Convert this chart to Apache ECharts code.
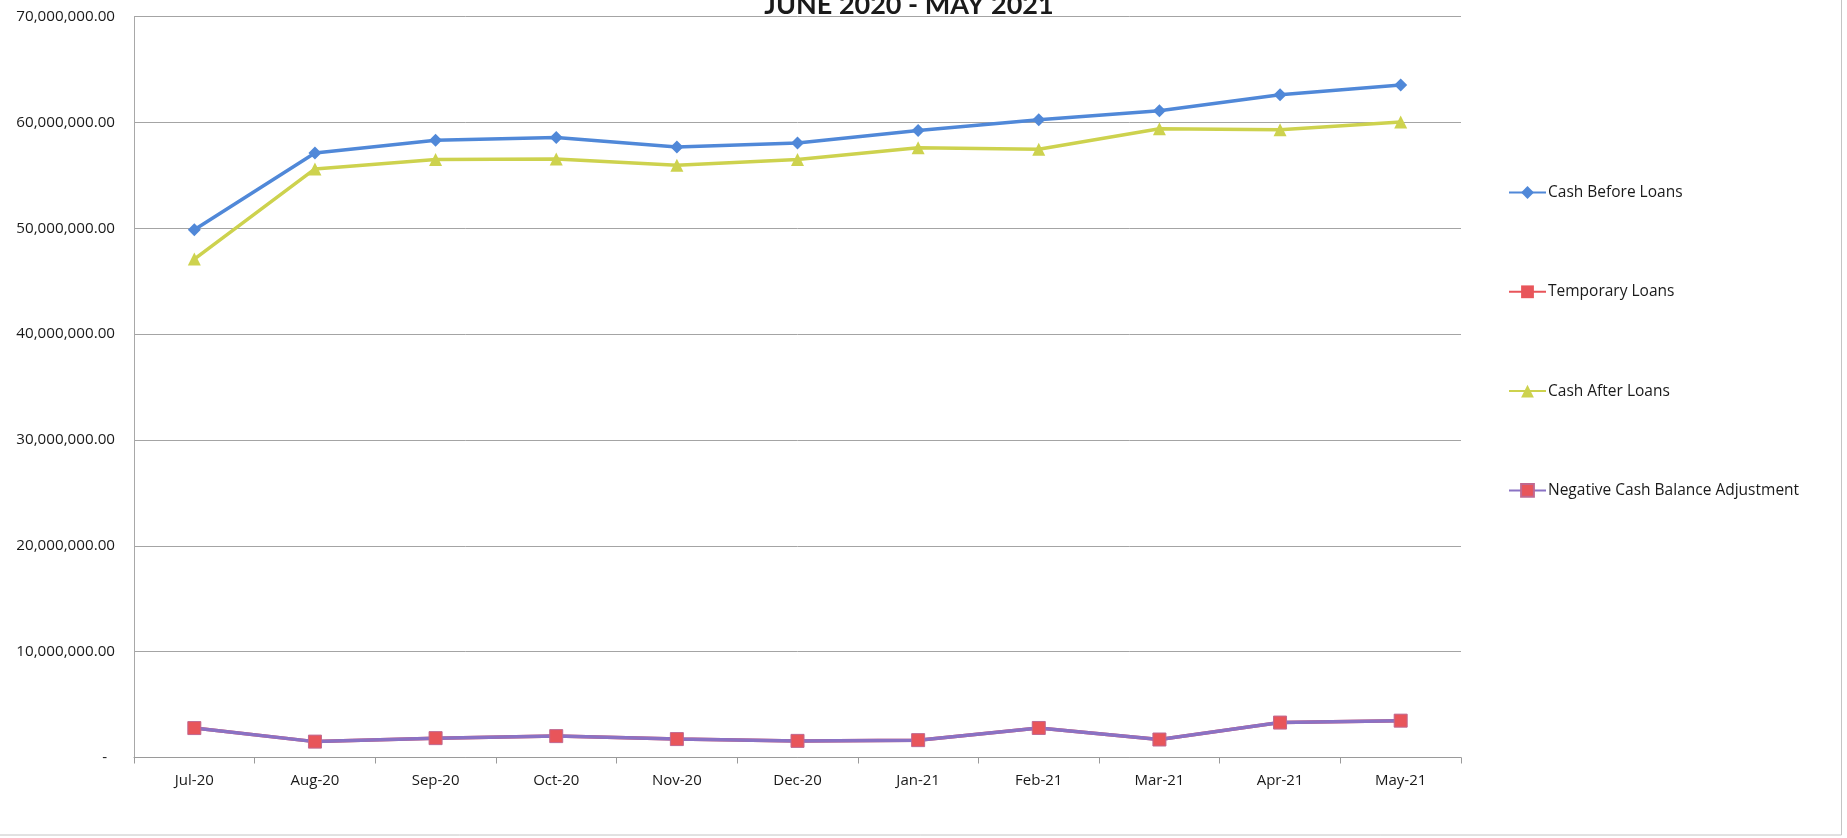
<!DOCTYPE html>
<html>
<head>
<meta charset="utf-8">
<title>Cash Flow June 2020 - May 2021</title>
<script src="https://cdn.jsdelivr.net/npm/echarts@6/dist/echarts.min.js"></script>
<style>
  html, body { margin: 0; padding: 0; background: #ffffff; }
  #chart { width: 1847px; height: 838px; }
</style>
</head>
<body>
<div id="chart"></div>
<script>
// Monthly cash position, July 2020 through May 2021
const months = ['Jul-20', 'Aug-20', 'Sep-20', 'Oct-20', 'Nov-20', 'Dec-20',
                'Jan-21', 'Feb-21', 'Mar-21', 'Apr-21', 'May-21'];

const cashBeforeLoans = [49860000, 57100000, 58320000, 58580000, 57680000, 58060000,
                         59240000, 60250000, 61100000, 62600000, 63520000];

const temporaryLoans = [2780000, 1500000, 1830000, 2020000, 1740000, 1570000,
                        1640000, 2790000, 1700000, 3300000, 3480000];

const cashAfterLoans = [47080000, 55600000, 56480000, 56540000, 55940000, 56490000,
                        57600000, 57460000, 59400000, 59300000, 60040000];

const negativeCashAdjustment = [2780000, 1500000, 1830000, 2020000, 1740000, 1570000,
                                1640000, 2790000, 1700000, 3300000, 3480000];

const yTicks = [0, 10000000, 20000000, 30000000, 40000000, 50000000, 60000000, 70000000];

const FONT = '"Open Sans", Lato, sans-serif';
const TITLE_FONT = 'Lato, "Open Sans", sans-serif';

function money(v) {
  if (v === 0) return '-  ';
  return v.toLocaleString('en-US', { minimumFractionDigits: 2, maximumFractionDigits: 2 });
}

const chart = echarts.init(document.getElementById('chart'), null, { renderer: 'canvas' });

chart.setOption({
  backgroundColor: '#ffffff',
  animation: false,
  textStyle: { fontFamily: FONT },
  title: {
    text: 'JUNE 2020 - MAY 2021',
    left: 904,
    textAlign: 'center',
    top: -13,
    textStyle: { fontFamily: TITLE_FONT, fontSize: 27, fontWeight: 'bold', color: '#1a1a1a' }
  },
  grid: { left: 134, right: 386, top: 16.5, bottom: 80.5 },
  legend: {
    orient: 'vertical',
    left: 1508,
    top: 184.5,
    padding: 0,
    itemWidth: 37,
    itemHeight: 16,
    itemGap: 83.3,
    textStyle: { fontFamily: FONT, fontSize: 15.5, lineHeight: 16, color: '#1a1a1a', padding: [0, 0, 0, -3] },
    data: ['Cash Before Loans', 'Temporary Loans', 'Cash After Loans', 'Negative Cash Balance Adjustment']
  },
  xAxis: {
    type: 'category',
    data: months,
    boundaryGap: true,
    axisLine: { lineStyle: { color: '#9a9a9a', width: 1 } },
    axisTick: { show: true, length: 6, lineStyle: { color: '#9a9a9a' } },
    axisLabel: { fontFamily: FONT, fontSize: 15, color: '#1a1a1a', margin: 16 }
  },
  yAxis: {
    type: 'value',
    min: yTicks[0],
    max: yTicks[yTicks.length - 1],
    interval: yTicks[1] - yTicks[0],
    axisLine: { show: true, lineStyle: { color: '#a8a8a8', width: 1 } },
    axisTick: { show: false },
    splitLine: { lineStyle: { color: '#a4a4a4', width: 1 } },
    axisLabel: { fontFamily: FONT, fontSize: 15.2, color: '#1a1a1a', margin: 19, formatter: money }
  },
  series: [
    {
      name: 'Cash Before Loans',
      type: 'line',
      data: cashBeforeLoans,
      symbol: 'diamond',
      symbolSize: 13,
      lineStyle: { color: '#5088d8', width: 3.5 },
      itemStyle: { color: '#5088d8' },
      z: 4
    },
    {
      name: 'Temporary Loans',
      type: 'line',
      data: temporaryLoans,
      symbol: 'rect',
      symbolSize: 12,
      lineStyle: { color: '#e8555a', width: 3.5 },
      itemStyle: { color: '#e8555a' },
      z: 2
    },
    {
      name: 'Cash After Loans',
      type: 'line',
      data: cashAfterLoans,
      symbol: 'triangle',
      symbolSize: 13,
      lineStyle: { color: '#cdd24e', width: 3.5 },
      itemStyle: { color: '#cdd24e' },
      z: 3
    },
    {
      name: 'Negative Cash Balance Adjustment',
      type: 'line',
      data: negativeCashAdjustment,
      symbol: 'rect',
      symbolSize: 13,
      lineStyle: { color: '#8a72c4', width: 3.5 },
      itemStyle: { color: '#e8555a', borderColor: '#c06890', borderWidth: 1 },
      z: 5
    }
  ],
  graphic: [
    {
      type: 'rect',
      shape: { x: -2, y: -20, width: 1843.5, height: 855 },
      style: { fill: 'none', stroke: '#c4c4c4', lineWidth: 1 },
      silent: true
    }
  ]
});
</script>
</body>
</html>
